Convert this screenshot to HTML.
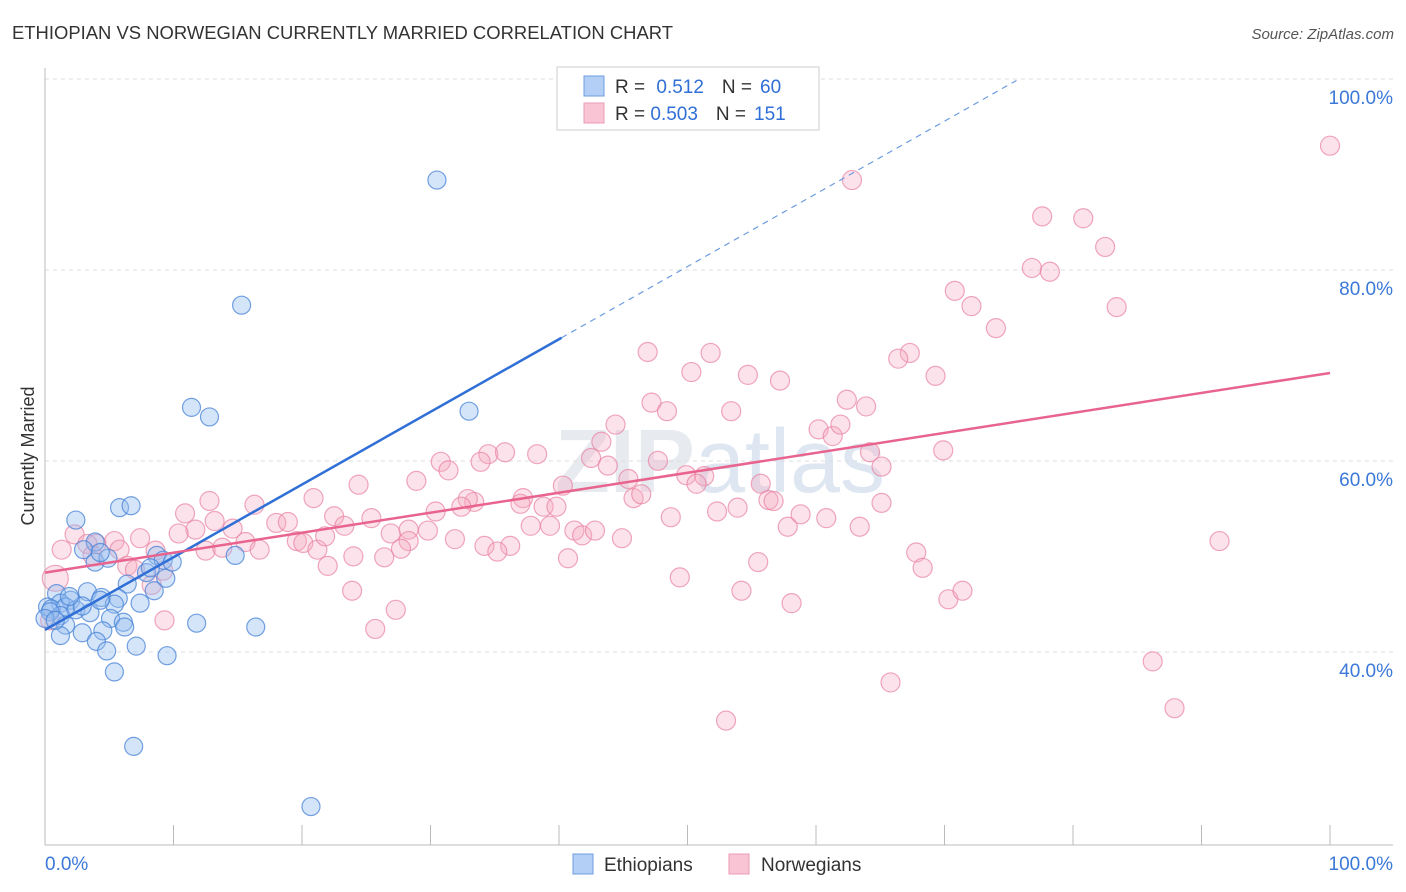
<!DOCTYPE html>
<html><head><meta charset="utf-8"><style>
body{margin:0;background:#fff;font-family:"Liberation Sans",sans-serif;}
svg{display:block}
</style></head><body>
<svg id="chart" width="1406" height="892">
<text x="12" y="39" font-size="18" fill="#333" textLength="661" lengthAdjust="spacingAndGlyphs">ETHIOPIAN VS NORWEGIAN CURRENTLY MARRIED CORRELATION CHART</text>
<text x="1394" y="39" font-size="15" fill="#555" font-style="italic" text-anchor="end">Source: ZipAtlas.com</text>
<text x="34" y="456" font-size="18" fill="#333" text-anchor="middle" transform="rotate(-90 34 456)">Currently Married</text>
<text x="720" y="492" font-size="90" fill="#dde3ea" text-anchor="middle" font-weight="bold" opacity="0.7">ZIP<tspan font-weight="normal" fill="#cfdcec">atlas</tspan></text>
<g id="grid"></g><g id="axes"></g><g id="pink"></g><g id="blue"></g><g id="lines"></g>
<g>
<rect x="557" y="67" width="262" height="63" fill="#fff" stroke="#ccc"/>
<rect x="584" y="76" width="20" height="20" fill="#b4cff5" stroke="#6d9ce0"/>
<rect x="584" y="103" width="20" height="20" fill="#f9c5d4" stroke="#eb9ab3"/>
<text x="615" y="93" font-size="19" fill="#333">R = <tspan fill="#2f6fd6" dx="6">0.512</tspan><tspan dx="18" fill="#333">N =</tspan><tspan fill="#2f6fd6" dx="8">60</tspan></text>
<text x="615" y="120" font-size="19" fill="#333">R = <tspan fill="#2f6fd6">0.503</tspan><tspan dx="18" fill="#333">N =</tspan><tspan fill="#2f6fd6" dx="8">151</tspan></text>
</g>
<g>
<rect x="573" y="854" width="20" height="20" fill="#b4cff5" stroke="#6d9ce0"/>
<text x="604" y="871" font-size="19" fill="#333">Ethiopians</text>
<rect x="729" y="854" width="20" height="20" fill="#f9c5d4" stroke="#eb9ab3"/>
<text x="761" y="871" font-size="19" fill="#333">Norwegians</text>
</g>
</svg>
<script>
const yTicks=[100,80,60,40];
const yTickLabels=["100.0%","80.0%","60.0%","40.0%"];
const xTicks=[0,10,20,30,40,50,60,70,80,90,100];
const blueX=[30.5,15.3,11.4,12.8,33.0,2.4,5.8,6.7,3.9,3.0,3.9,4.9,8.7,9.2,9.9,14.8,7.9,9.4,6.4,8.5,3.3,0.9,4.4,5.7,2.0,1.2,7.4,5.4,0.2,0.5,1.6,2.4,3.5,2.9,1.2,5.1,6.1,1.6,4.5,2.9,1.2,4.0,7.1,4.8,9.5,11.8,16.4,5.4,6.9,20.7,6.2,4.3,0.4,0,4.3,8.2,1.9,0.8];
const blueY=[91.3,78.2,67.5,66.5,67.1,55.7,57.0,57.2,53.4,52.6,51.3,51.7,52.0,51.5,51.3,52.0,50.2,49.6,49.0,48.3,48.2,48.0,47.6,47.5,47.3,47.0,47.0,46.9,46.6,46.4,46.6,46.3,46.0,46.7,45.7,45.4,45.0,44.7,44.1,43.9,43.6,43.0,42.5,42.0,41.5,44.9,44.5,39.8,32.0,25.7,44.5,47.3,46.1,45.4,52.3,50.7,47.7,45.2];
const pinkX=[100,62.8,77.6,80.8,82.5,76.8,78.2,70.8,72.1,83.4,74.0,46.9,51.8,67.3,66.4,50.3,54.7,57.2,69.3,47.2,48.4,53.4,62.4,63.9,44.4,43.3,60.2,61.3,61.9,64.2,69.9,30.8,31.4,34.5,35.8,33.9,38.3,42.5,43.8,47.7,65.1,28.9,24.4,40.3,45.4,49.9,51.3,50.7,55.7,45.8,46.4,33.4,32.9,37.2,37.0,32.4,38.8,39.8,30.4,56.3,56.7,65.1,52.3,53.9,58.8,60.8,63.4,48.7,57.8,20.9,16.3,12.8,10.9,13.2,18.0,18.9,22.5,25.4,28.3,29.8,26.9,23.3,14.6,11.7,10.4,7.4,5.4,4.0,2.3,5.8,8.6,12.5,13.8,15.6,19.6,20.1,21.2,21.8,28.3,27.7,31.9,34.2,36.2,37.8,39.3,41.2,41.8,42.8,44.9,40.7,35.2,16.7,1.3,0.8,3.3,3.7,6.4,7.0,9.2,22.0,24.0,26.4,23.9,27.3,25.7,9.3,49.4,55.5,54.2,58.1,67.8,68.3,70.3,71.4,91.4,86.2,87.9,65.8,53.0,8.3,0.4];
const pinkY=[94.9,91.3,87.5,87.3,84.3,82.1,81.7,79.7,78.1,78.0,75.8,73.3,73.2,73.2,72.6,71.2,70.9,70.3,70.8,68.0,67.1,67.1,68.3,67.6,65.7,63.9,65.2,64.5,65.7,62.8,63.0,61.8,60.9,62.6,62.8,61.8,62.6,62.2,61.4,61.9,61.3,59.8,59.4,59.3,60.0,60.4,60.3,59.5,59.5,58.0,58.4,57.6,57.9,58.0,57.4,57.1,57.1,57.1,56.6,57.8,57.7,57.5,56.6,57.0,56.3,55.9,55.0,56.0,55.0,58.0,57.3,57.7,56.4,55.6,55.4,55.5,56.1,55.9,54.7,54.6,54.3,55.1,54.8,54.7,54.3,53.8,53.5,53.2,54.2,52.6,52.5,52.5,52.8,53.4,53.5,53.3,52.6,54.0,53.5,52.7,53.7,53.0,53.0,55.1,55.1,54.6,54.1,54.6,53.8,51.7,52.4,52.6,52.6,49.6,53.2,52.0,50.9,50.5,50.4,50.9,51.9,51.8,48.3,46.3,44.3,45.2,49.7,51.3,48.3,47.0,52.3,50.7,47.4,48.3,53.5,40.9,36.0,38.7,34.7,48.9,45.2];
const blueTrend=[44.2,0.761];
const pinkTrend=[50.2,0.209];
const NS="http://www.w3.org/2000/svg";
const X=v=>45+v*12.85, Y=v=>1052-v*9.55;
function mk(p,t,a){const e=document.createElementNS(NS,t);for(const k in a)e.setAttribute(k,a[k]);p.appendChild(e);return e;}
const grid=document.getElementById('grid'),axes=document.getElementById('axes');
yTicks.forEach((t,i)=>{
 const l=mk(grid,'line',{x1:45,x2:1393,y1:Y(t)-18,y2:Y(t)-18,stroke:'#ddd','stroke-dasharray':'4,4'});
 
 
 const tx=mk(grid,'text',{x:1393,y:Y(t)+7,'font-size':19,fill:'#3b78d8','text-anchor':'end'});tx.textContent=yTickLabels[i];
 
 
});
mk(axes,'line',{x1:45,x2:45,y1:68,y2:845,stroke:'#bbb'});
mk(axes,'line',{x1:45,x2:1393,y1:845,y2:845,stroke:'#bbb'});
xTicks.forEach(t=>{const l=mk(axes,'line',{x1:X(t),x2:X(t),y1:825,y2:845,stroke:'#bbb'});
 
 });
let a=mk(axes,'text',{x:45,y:870,'font-size':19,fill:'#3b78d8'});a.textContent='0.0%';


a=mk(axes,'text',{x:1393,y:870,'font-size':19,fill:'#3b78d8','text-anchor':'end'});a.textContent='100.0%';


const pg=document.getElementById('pink');
pinkX.forEach((x,i)=>{const c=mk(pg,'circle',{cx:X(x),cy:Y(pinkY[i]),r:(i==113?13:9.5),fill:'rgba(247,172,196,0.35)',stroke:'rgba(232,130,162,0.7)','stroke-width':1.2});
 
 });
const bg=document.getElementById('blue');
blueX.forEach((x,i)=>{const c=mk(bg,'circle',{cx:X(x),cy:Y(blueY[i]),r:9,fill:'rgba(150,190,240,0.4)',stroke:'rgba(70,130,215,0.75)','stroke-width':1.2});
 
 });
const lg=document.getElementById('lines');
const bEnd=40.2, bDash=75.6;
let ln=mk(lg,'line',{x1:X(0),y1:Y(blueTrend[0]),x2:X(bEnd),y2:Y(blueTrend[0]+blueTrend[1]*bEnd),stroke:'#2f6fd6','stroke-width':2.5});


ln=mk(lg,'line',{x1:X(bEnd),y1:Y(blueTrend[0]+blueTrend[1]*bEnd),x2:X(bDash),y2:Y(blueTrend[0]+blueTrend[1]*bDash),stroke:'#6d9ce0','stroke-width':1.2,'stroke-dasharray':'6,5'});


ln=mk(lg,'line',{x1:X(0),y1:Y(pinkTrend[0]),x2:X(100),y2:Y(pinkTrend[0]+pinkTrend[1]*100),stroke:'#e8648f','stroke-width':2.5});


</script>
</body></html>
